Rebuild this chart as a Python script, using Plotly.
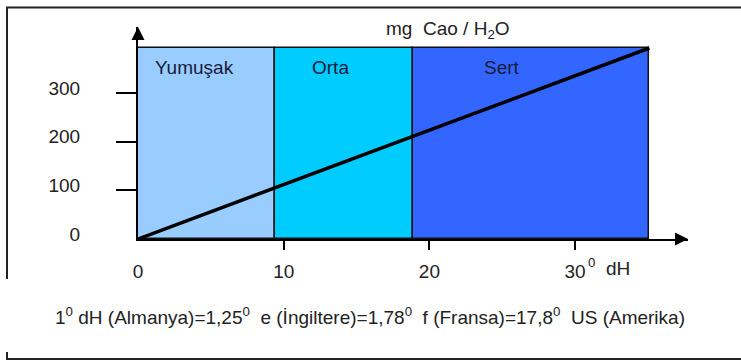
import plotly.graph_objects as go

# ---- data ----
zone_names = ["Yumuşak", "Orta", "Sert"]
zone_start = [0, 9.4, 18.9]          # °dH
zone_end = [9.4, 18.9, 35.1]
zone_colors = ["#99CCFF", "#00CCFF", "#3366FF"]
zone_top = 393                         # mg CaO (top of band)
label_x = [3.9, 13.2, 25.0]
label_y = 352

line_x = [0, 35.1]                     # °dH
line_y = [0, 393]                      # mg CaO

x_ticks = [0, 10, 20, 30]
x_ticktext = ["0", "10", "20", "30"]
y_ticks = [0, 100, 200, 300]
y_ticktext = ["0", "100", "200", "300"]

title_text = "mg  Cao / H<sub>2</sub>O"
foot_text = ("1<sup>0</sup> dH (Almanya)=1,25<sup>0</sup>  e (İngiltere)=1,78<sup>0</sup>"
             "  f (Fransa)=17,8<sup>0</sup>  US (Amerika)")

FONT = "Liberation Sans, Arial, sans-serif"
TXT = "#222222"
FS = 19

W, H = 741, 362
L, R, T, B = 138, 53, 27, 123
PW, PH = W - L - R, H - T - B

def px(xp):  # pixel x -> paper
    return (xp - L) / PW

def py(yp):  # pixel y -> paper
    return (H - B - yp) / PH

fig = go.Figure()

widths = [e - s for s, e in zip(zone_start, zone_end)]
fig.add_trace(go.Bar(
    x=zone_start, y=[zone_top] * 3, width=widths, offset=0,
    marker=dict(color=zone_colors, line=dict(color="#111111", width=1.5)),
    hoverinfo="skip", showlegend=False,
))
fig.add_trace(go.Scatter(
    x=line_x, y=line_y, mode="lines",
    line=dict(color="black", width=3.5), hoverinfo="skip", showlegend=False,
))
# invisible trace to activate overlay axes
fig.add_trace(go.Scatter(x=[0], y=[0], xaxis="x2", yaxis="y2", mode="markers",
                         marker=dict(opacity=0), hoverinfo="skip", showlegend=False))

xr = [0, PW / 14.57]
yr = [0, PH / 0.486]

fig.update_layout(
    width=W, height=H,
    margin=dict(l=L, r=R, t=T, b=B, pad=0, autoexpand=False),
    paper_bgcolor="white", plot_bgcolor="white",
    bargap=0,
    font=dict(family=FONT, size=FS, color=TXT),
    xaxis=dict(range=xr, showgrid=False, zeroline=False, showline=True, automargin=False,
               linecolor="black", linewidth=2, tickvals=x_ticks, ticktext=x_ticktext,
               ticks="", ticklabelstandoff=14, tickfont=dict(size=FS, color=TXT),
               fixedrange=True),
    yaxis=dict(range=yr, showgrid=False, zeroline=False, showline=True, automargin=False,
               linecolor="black", linewidth=2, tickvals=y_ticks, ticktext=y_ticktext,
               ticks="", ticklabelstandoff=52, ticklabelshift=-5,
               tickfont=dict(size=FS, color=TXT), fixedrange=True),
    xaxis2=dict(range=xr, overlaying="x", anchor="y", side="bottom", showgrid=False,
                zeroline=False, showline=False, tickvals=x_ticks[1:], ticks="outside",
                ticklen=10, tickwidth=2, tickcolor="black", showticklabels=False,
                automargin=False, fixedrange=True),
    yaxis2=dict(range=yr, overlaying="y", anchor="x", side="left", showgrid=False,
                zeroline=False, showline=False, tickvals=y_ticks[1:], ticks="outside",
                ticklen=21, tickwidth=2, tickcolor="black", showticklabels=False,
                automargin=False, fixedrange=True),
)

ann = []
for n, xx in zip(zone_names, label_x):
    ann.append(dict(x=xx, y=label_y, xref="x", yref="y", text=n, showarrow=False,
                    font=dict(size=FS, color="#1a1a3a")))
ann.append(dict(x=30, y=0, xref="x", yref="y", xshift=11, yshift=-28, xanchor="left",
                yanchor="middle", text="<sup>0</sup>  dH", showarrow=False,
                font=dict(size=FS, color=TXT)))
ann.append(dict(x=px(448), y=py(16), xref="paper", yref="paper", text=title_text,
                showarrow=False, font=dict(size=FS, color=TXT)))
ann.append(dict(x=px(53), y=py(316), xref="paper", yref="paper", xanchor="left",
                yanchor="middle", text=foot_text, showarrow=False,
                font=dict(size=FS, color=TXT)))
# axis arrowheads
ann.append(dict(x=1, y=0, xref="paper", yref="paper", ax=-14, ay=0, text="",
                showarrow=True, arrowhead=2, arrowsize=1.3, arrowwidth=2,
                arrowcolor="black"))
ann.append(dict(x=0, y=1, xref="paper", yref="paper", ax=0, ay=14, text="",
                showarrow=True, arrowhead=2, arrowsize=1.3, arrowwidth=2,
                arrowcolor="black"))
fig.update_layout(annotations=ann)

# outer frame (page layout decoration)
frame = dict(color="#222222", width=2)
fig.update_layout(shapes=[
    dict(type="rect", xref="paper", yref="paper", x0=px(7), x1=px(W + 10),
         y0=py(359), y1=py(7.5), line=frame, fillcolor="rgba(0,0,0,0)", layer="below"),
    # break in the left edge beside the footnote
    dict(type="rect", xref="paper", yref="paper", x0=px(4), x1=px(10),
         y0=py(352), y1=py(279), line=dict(width=0), fillcolor="white", layer="below"),
])

fig.write_html("out.html", config={"displayModeBar": False},
               post_script="document.body.style.margin='0';document.body.style.overflow='hidden';")
